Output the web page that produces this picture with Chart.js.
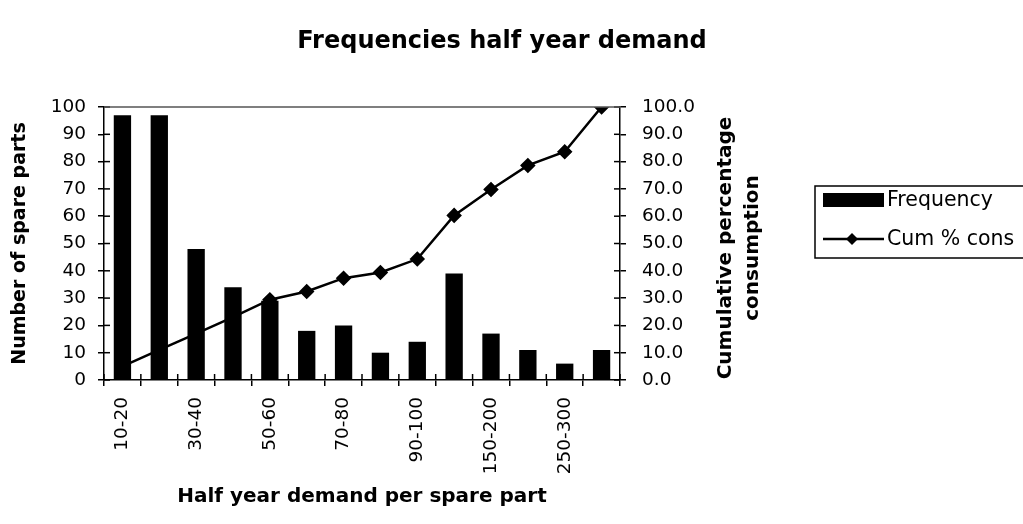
<!DOCTYPE html>
<html>
<head>
<meta charset="utf-8">
<style>
  html, body { margin: 0; padding: 0; background: #fff; }
  #wrap { width: 1023px; height: 524px; }
</style>
<script src="https://cdn.jsdelivr.net/npm/chart.js@4/dist/chart.umd.min.js"></script>
</head>
<body>
<div id="wrap"><canvas id="c" width="1023" height="524"></canvas></div>
<script>
// Demand classes (half-year demand per spare part)
const categories = ['10-20', '20-30', '30-40', '40-50', '50-60', '60-70', '70-80',
                    '80-90', '90-100', '100-150', '150-200', '200-250', '250-300', '>300'];
// Number of spare parts in each class
const frequency = [97, 97, 48, 34, 29, 18, 20, 10, 14, 39, 17, 11, 6, 11];
// Cumulative percentage of consumption
const cumPct = [5, 11, 17, 23, 29.4, 32.4, 37.3, 39.4, 44.3, 60.3, 69.8, 78.6, 83.6, 100];
// Axis tick values
const leftTicks = [0, 10, 20, 30, 40, 50, 60, 70, 80, 90, 100];
const rightTicks = [0, 10, 20, 30, 40, 50, 60, 70, 80, 90, 100];

const FONT = 'DejaVu Sans';
const TITLE = 'Frequencies half year demand';
const RIGHT_TITLE = ['Cumulative percentage', 'consumption'];

// Excel-style tick marks that cross the axis lines, plus the top frame line
const crossTicks = {
  id: 'crossTicks',
  afterDatasetsDraw(chart) {
    const { ctx, chartArea: a, scales } = chart;
    ctx.save();
    ctx.strokeStyle = '#000';
    ctx.lineWidth = 1.5;
    const inner = 6;
    scales.y.ticks.forEach((t, i) => {
      const py = scales.y.getPixelForTick(i);
      ctx.beginPath(); ctx.moveTo(a.left, py); ctx.lineTo(a.left + inner, py); ctx.stroke();
    });
    scales.y1.ticks.forEach((t, i) => {
      const py = scales.y1.getPixelForTick(i);
      ctx.beginPath(); ctx.moveTo(a.right, py); ctx.lineTo(a.right - inner, py); ctx.stroke();
    });
    const n = categories.length;
    const step = (a.right - a.left) / n;
    for (let k = 0; k <= n; k++) {
      const px = a.left + k * step;
      ctx.beginPath(); ctx.moveTo(px, a.bottom); ctx.lineTo(px, a.bottom - inner); ctx.stroke();
    }
    // top frame line
    ctx.strokeStyle = '#555';
    ctx.lineWidth = 1.5;
    ctx.beginPath(); ctx.moveTo(a.left, a.top); ctx.lineTo(a.right, a.top); ctx.stroke();
    ctx.restore();
  }
};

// Chart title, right-axis title (reads bottom to top) and the boxed legend
const decor = {
  id: 'decor',
  afterDraw(chart) {
    const { ctx } = chart;
    ctx.save();
    ctx.fillStyle = '#000';
    ctx.textBaseline = 'middle';

    ctx.font = 'bold 24px ' + FONT;
    ctx.textAlign = 'center';
    ctx.fillText(TITLE, 502, 42);

    ctx.font = 'bold 20px ' + FONT;
    [726, 753].forEach((x, i) => {
      ctx.save();
      ctx.translate(x, 248);
      ctx.rotate(-Math.PI / 2);
      ctx.fillText(RIGHT_TITLE[i], 0, 0);
      ctx.restore();
    });

    // legend box
    ctx.strokeStyle = '#000';
    ctx.lineWidth = 1.5;
    ctx.strokeRect(815, 186, 240, 72);
    const ds = chart.data.datasets;
    ctx.font = '20.5px ' + FONT;
    ctx.textAlign = 'left';
    // bar entry
    ctx.fillRect(823, 193, 61, 14);
    ctx.fillText(ds[0].label, 887, 201);
    // line entry
    ctx.lineWidth = 2.5;
    ctx.beginPath(); ctx.moveTo(823, 239); ctx.lineTo(884, 239); ctx.stroke();
    ctx.beginPath();
    ctx.moveTo(852, 233); ctx.lineTo(858, 239); ctx.lineTo(852, 245); ctx.lineTo(846, 239);
    ctx.closePath(); ctx.fill();
    ctx.fillText(ds[1].label, 887, 240);
    ctx.restore();
  }
};

new Chart(document.getElementById('c'), {
  type: 'bar',
  data: {
    labels: categories,
    datasets: [
      {
        type: 'bar',
        label: 'Frequency',
        data: frequency,
        backgroundColor: '#000',
        borderWidth: 0,
        yAxisID: 'y',
        categoryPercentage: 1,
        barPercentage: 0.47,
        order: 2
      },
      {
        type: 'line',
        label: 'Cum % cons',
        data: cumPct,
        yAxisID: 'y1',
        borderColor: '#000',
        backgroundColor: '#000',
        borderWidth: 2.5,
        pointStyle: 'rectRot',
        pointRadius: 6,
        pointHoverRadius: 6,
        tension: 0,
        order: 1
      }
    ]
  },
  options: {
    responsive: false,
    animation: false,
    devicePixelRatio: 1,
    layout: { padding: { left: 0, right: 0, top: 107, bottom: 0 } },
    plugins: {
      legend: { display: false },
      tooltip: { enabled: false },
      title: { display: false }
    },
    scales: {
      x: {
        afterFit: (s) => { s.height = 144; },
        grid: { offset: true, drawOnChartArea: false, color: '#000', lineWidth: 1.5, tickLength: 6, tickWidth: 1.5 },
        border: { color: '#000', width: 1.5 },
        ticks: {
          color: '#000',
          font: { family: FONT, size: 18.5 },
          minRotation: 90, maxRotation: 90,
          autoSkip: false,
          padding: 11,
          callback: (v, i) => (i % 2 === 0 ? categories[i] : '')
        },
        title: {
          display: true,
          text: 'Half year demand per spare part',
          color: '#000',
          font: { family: FONT, size: 20, weight: 'bold' },
          padding: { top: 0, bottom: 15 }
        }
      },
      y: {
        position: 'left',
        min: 0, max: 100,
        afterFit: (s) => { s.width = 104; },
        afterBuildTicks: (s) => { s.ticks = leftTicks.map(v => ({ value: v })); },
        grid: { drawOnChartArea: false, color: '#000', lineWidth: 1.5, tickLength: 6 },
        border: { color: '#000', width: 1.5 },
        ticks: { color: '#000', font: { family: FONT, size: 18.5 }, padding: 12 },
        title: {
          display: true,
          text: 'Number of spare parts',
          color: '#000',
          font: { family: FONT, size: 19, weight: 'bold' },
          padding: { top: 9, bottom: 0 }
        }
      },
      y1: {
        position: 'right',
        min: 0, max: 100,
        afterFit: (s) => { s.width = 403; },
        afterBuildTicks: (s) => { s.ticks = rightTicks.map(v => ({ value: v })); },
        grid: { drawOnChartArea: false, color: '#000', lineWidth: 1.5, tickLength: 6 },
        border: { color: '#000', width: 1.5 },
        ticks: {
          color: '#000', font: { family: FONT, size: 18.5 }, padding: 16,
          callback: (v) => Number(v).toFixed(1)
        }
      }
    }
  },
  plugins: [crossTicks, decor]
});
</script>
</body>
</html>
